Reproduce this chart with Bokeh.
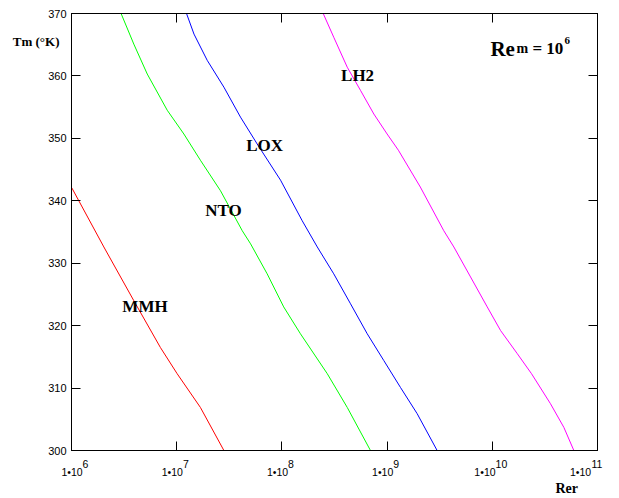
import math
from bokeh.plotting import figure
from bokeh.models import (Range1d, FixedTicker, LogAxis, LinearAxis, Label,
                          CustomJSTickFormatter, LinearScale)
from bokeh.embed import file_html
from bokeh.resources import INLINE

# ---- data ----
T_MMH = [300.0, 306.9, 312.3, 316.5, 324.0, 332.6, 341.9, 343.0]
RER_MMH = [2.81e7, 1.68e7, 1.01e7, 7.0e6, 3.91e6, 2.03e6, 1.02e6, 9.3e5]

T_NTO = [300.0, 306.9, 312.3, 318.7, 323.0, 328.3, 333.1, 335.2, 341.6, 346.5, 350.7, 354.5, 360.3, 365.1, 370.0]
RER_NTO = [6.95e8, 4.18e8, 2.70e8, 1.50e8, 1.04e8, 7.24e7, 5.04e7, 4.20e7, 2.61e7, 1.68e7, 1.17e7, 8.13e6, 5.25e6, 3.91e6, 2.96e6]

T_LOX = [300.0, 305.9, 310.1, 314.4, 318.7, 323.5, 328.3, 332.6, 336.8, 343.3, 349.1, 353.4, 358.2, 362.5, 366.7, 370.0]
RER_LOX = [2.99e9, 1.93e9, 1.34e9, 9.31e8, 6.47e8, 4.49e8, 3.11e8, 2.17e8, 1.56e8, 9.71e7, 5.82e7, 4.04e7, 2.81e7, 1.95e7, 1.46e7, 1.24e7]

T_LH2 = [300.0, 303.7, 307.5, 312.3, 315.5, 319.2, 323.0, 327.8, 332.6, 335.2, 342.2, 348.1, 350.7, 353.9, 357.7, 361.4, 366.2, 370.0]
RER_LH2 = [5.96e10, 4.79e10, 3.57e10, 2.36e10, 1.73e10, 1.20e10, 8.95e9, 6.21e9, 4.31e9, 3.46e9, 2.07e9, 1.28e9, 1.00e9, 7.48e8, 5.58e8, 4.18e8, 3.11e8, 2.47e8]

SERIES_NAMES = ["MMH", "NTO", "LOX", "LH2"]
SERIES_COLORS = ["#ff0000", "#00ff00", "#0000ff", "#ff00ff"]
# label anchor points (Rer, Tm)
LABEL_RER = [5.0e6, 2.79e7, 6.84e7, 5.24e8]
LABEL_T = [323.0, 338.4, 348.9, 360.1]

X_MIN, X_MAX = 1e6, 1e11
Y_MIN, Y_MAX = 300, 370
X_TICKS = [1e6, 1e7, 1e8, 1e9, 1e10, 1e11]
X_TICK_BASE = "1\u202210"
X_TICK_EXP = ["6", "7", "8", "9", "10", "11"]
Y_TICKS = [300, 310, 320, 330, 340, 350, 360, 370]

X_TITLE = "Rer"
X_TITLE_AT = 5.1e10
Y_TITLE = "Tm (\u00b0K)"
Y_TITLE_AT = 365.5
NOTE_PARTS = ["Re", "m", "= 10", "6"]
NOTE_AT = (9.6e9, 364.35)

SERIF = "Liberation Serif"
SANS = "Liberation Sans"

W, H = 619, 498
BL, BR, BT, BB = 71, 22, 13, 48
FW = W - BL - BR
PPD = FW / (math.log10(X_MAX) - math.log10(X_MIN))   # pixels per decade


def px(v):
    return (math.log10(v) - math.log10(X_MIN)) * PPD


p = figure(width=W, height=H, x_axis_type="log",
           x_range=Range1d(X_MIN, X_MAX), y_range=Range1d(Y_MIN, Y_MAX),
           output_backend="svg", toolbar_location=None,
           min_border_left=BL, min_border_right=BR, min_border_top=BT, min_border_bottom=BB)
p.extra_x_ranges = {"px": Range1d(0, FW)}
p.extra_x_scales = {"px": LinearScale()}
p.background_fill_color = "white"
p.border_fill_color = "white"
p.outline_line_color = "black"
p.xgrid.visible = False
p.ygrid.visible = False

blank = CustomJSTickFormatter(code="return ''")


def style_axis(ax, show_labels):
    ax.axis_line_color = "black"
    ax.major_tick_line_color = "black"
    ax.major_tick_in = 9
    ax.major_tick_out = 0
    ax.minor_tick_in = 0
    ax.minor_tick_out = 0
    if not show_labels:
        ax.formatter = blank
        ax.major_label_text_font_size = "0px"
        ax.major_label_standoff = 0


def text_axis(ticks, labels, font, size, standoff, bold=False, x_range_name=None):
    kw = {"x_range_name": x_range_name} if x_range_name else {}
    ax = LinearAxis(ticker=FixedTicker(ticks=ticks, minor_ticks=[]), **kw)
    ax.axis_line_color = None
    ax.major_tick_line_color = None
    ax.minor_tick_line_color = None
    ax.major_tick_in = 0
    ax.major_tick_out = 0
    ax.minor_tick_in = 0
    ax.minor_tick_out = 0
    ax.major_label_overrides = dict(zip(ticks, labels))
    ax.major_label_text_font = font
    ax.major_label_text_font_size = size
    ax.major_label_text_color = "black"
    if bold:
        ax.major_label_text_font_style = "bold"
    ax.major_label_standoff = standoff
    return ax


p.xaxis.ticker = FixedTicker(ticks=X_TICKS, minor_ticks=[])
style_axis(p.xaxis[0], False)

p.yaxis.ticker = FixedTicker(ticks=Y_TICKS, minor_ticks=[])
style_axis(p.yaxis[0], True)
p.yaxis.major_label_text_font = SANS
p.yaxis.major_label_text_font_size = "11px"
p.yaxis.major_label_text_color = "black"
p.yaxis.major_label_standoff = 5

top = LogAxis(ticker=FixedTicker(ticks=X_TICKS, minor_ticks=[]))
style_axis(top, False)
p.add_layout(top, "above")
right = LinearAxis(ticker=FixedTicker(ticks=Y_TICKS, minor_ticks=[]))
style_axis(right, False)
p.add_layout(right, "right")

# y title: horizontal text near the top of the left axis
ytitle_axis = text_axis([Y_TITLE_AT], [Y_TITLE], SERIF, "13px", -14, bold=True)
p.add_layout(ytitle_axis, "left")

# x tick labels: "1•10" with a raised exponent (two label rows);
# label centres must stay inside the frame, so edge labels are nudged inward
BW, DW = 21.2, 5.84
exp_pos, base_pos = [], []
for tv, ex in zip(X_TICKS, X_TICK_EXP):
    ew = DW * len(ex)
    b = px(tv) - ew / 2 - 1.5
    e = px(tv) + BW / 2 - 1.5
    shift = max(0.0, 0.5 - b)
    if e + shift > FW - 0.5:
        shift = FW - 0.5 - e
    base_pos.append(round(b + shift, 3))
    exp_pos.append(round(e + shift, 3))

exp_axis = text_axis(exp_pos, X_TICK_EXP, SANS, "10.5px", 9, x_range_name="px")
base_axis = text_axis(base_pos, [X_TICK_BASE] * len(X_TICKS), SANS, "10.5px", -5, x_range_name="px")
xtitle_axis = text_axis([round(px(X_TITLE_AT), 3)], [X_TITLE], SERIF, "14px", 0, bold=True,
                        x_range_name="px")
p.add_layout(exp_axis, "below")
p.add_layout(base_axis, "below")
p.add_layout(xtitle_axis, "below")

series = [(RER_MMH, T_MMH), (RER_NTO, T_NTO), (RER_LOX, T_LOX), (RER_LH2, T_LH2)]
for (xs, ys), c in zip(series, SERIES_COLORS):
    p.line(xs, ys, line_color=c, line_width=1)

for name, lx, ly in zip(SERIES_NAMES, LABEL_RER, LABEL_T):
    p.add_layout(Label(x=lx, y=ly, text=name, text_font=SERIF, text_font_style="bold",
                       text_font_size="17px", text_align="center", text_baseline="middle",
                       text_color="black"))

# Re_m = 10^6 note
note_specs = [(0, 0, "21px"), (26, 0, "14px"), (42, 0, "17px"), (74, 8, "11px")]
for part, (dx, dy, fs) in zip(NOTE_PARTS, note_specs):
    p.add_layout(Label(x=NOTE_AT[0], y=NOTE_AT[1], text=part, x_offset=dx, y_offset=dy,
                       text_align="left", text_baseline="alphabetic",
                       text_font=SERIF, text_font_style="bold", text_font_size=fs,
                       text_color="black"))

open("out.html", "w").write(file_html(p, INLINE))
